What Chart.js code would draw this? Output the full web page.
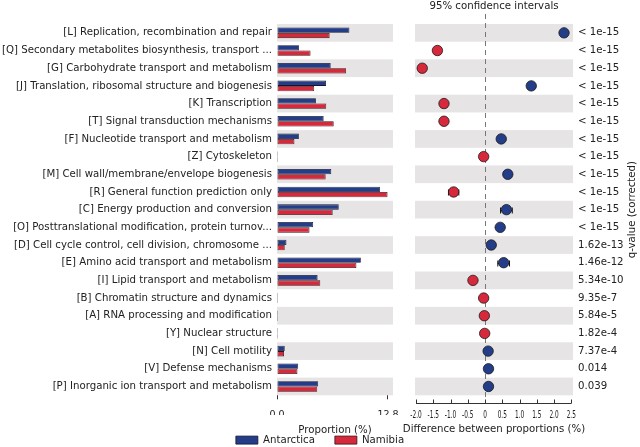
<!DOCTYPE html>
<html>
<head>
<meta charset="utf-8">
<script src="https://cdn.jsdelivr.net/npm/chart.js@4"></script>
<style>
  body { margin: 0; background: #fff; }
  #wrap { position: relative; width: 640px; height: 447px; }
  canvas { position: absolute; top: 0; }
  #barChart { left: 0; }
  #diffChart { left: 394px; }
</style>
</head>
<body>
<div id="wrap">
  <canvas id="barChart" width="640" height="447"></canvas>
  <canvas id="diffChart" width="246" height="447"></canvas>
</div>
<script>
// COG categories, top to bottom
const categories = [
  '[L] Replication, recombination and repair',
  '[Q] Secondary metabolites biosynthesis, transport ...',
  '[G] Carbohydrate transport and metabolism',
  '[J] Translation, ribosomal structure and biogenesis',
  '[K] Transcription',
  '[T] Signal transduction mechanisms',
  '[F] Nucleotide transport and metabolism',
  '[Z] Cytoskeleton',
  '[M] Cell wall/membrane/envelope biogenesis',
  '[R] General function prediction only',
  '[C] Energy production and conversion',
  '[O] Posttranslational modification, protein turnov...',
  '[D] Cell cycle control, cell division, chromosome ...',
  '[E] Amino acid transport and metabolism',
  '[I] Lipid transport and metabolism',
  '[B] Chromatin structure and dynamics',
  '[A] RNA processing and modification',
  '[Y] Nuclear structure',
  '[N] Cell motility',
  '[V] Defense mechanisms',
  '[P] Inorganic ion transport and metabolism'
];

// proportion (%)
const antarctica = [8.35, 2.55, 6.19, 5.65, 4.49, 5.38, 2.52, 0.04, 6.26, 11.87, 7.12,
  4.17, 1.09, 9.67, 4.68, 0.02, 0.03, 0.01, 0.89, 2.44, 4.75];
const namibia = [6.07, 3.87, 7.97, 4.29, 5.68, 6.54, 2.01, 0.08, 5.61, 12.75, 6.42,
  3.75, 0.89, 9.16, 4.99, 0.06, 0.05, 0.02, 0.81, 2.36, 4.64];

// difference between proportions (%) with 95% CI
const diffs = [2.29, -1.38, -1.82, 1.34, -1.19, -1.19, 0.47, -0.04, 0.66, -0.91, 0.62,
  0.44, 0.18, 0.54, -0.35, -0.04, -0.02, -0.01, 0.09, 0.10, 0.10];
const ciLow = [2.19, -1.47, -1.92, 1.25, -1.28, -1.29, 0.40, -0.07, 0.56, -1.06, 0.45,
  0.37, 0.12, 0.37, -0.43, -0.06, -0.04, -0.03, 0.05, 0.05, 0.03];
const ciHigh = [2.39, -1.29, -1.72, 1.43, -1.10, -1.09, 0.54, -0.01, 0.76, -0.76, 0.79,
  0.51, 0.24, 0.71, -0.27, -0.02, 0.00, 0.01, 0.13, 0.15, 0.17];

const qValues = ['< 1e-15', '< 1e-15', '< 1e-15', '< 1e-15', '< 1e-15', '< 1e-15',
  '< 1e-15', '< 1e-15', '< 1e-15', '< 1e-15', '< 1e-15', '< 1e-15',
  '1.62e-13', '1.46e-12', '5.34e-10', '9.35e-7', '5.84e-5', '1.82e-4', '7.37e-4', '0.014', '0.039'];

const propTicks = [0, 12.8];
const diffTicks = [-2.0, -1.5, -1.0, -0.5, 0, 0.5, 1.0, 1.5, 2.0, 2.5];

const PROP_MAX = 13.38;
const DIFF_MIN = -2.03;
const DIFF_MAX = 2.55;

const BLUE = '#233d88';
const RED = '#d8283c';
const BAND = '#e6e4e4';
const FONT = 'DejaVu Sans';
const FS = 10.2;
const titleFont = { family: FONT, size: FS };

Chart.defaults.color = '#222';
Chart.defaults.font.family = FONT;
Chart.defaults.font.size = FS;

// grey band behind every other row (+ dashed zero line / CI whiskers on the right panel)
const rowBands = {
  id: 'rowBands',
  beforeDatasetsDraw(chart, args, opts) {
    const { ctx, chartArea: a, scales } = chart;
    const y = scales.y;
    const step = y.getPixelForValue(1) - y.getPixelForValue(0);
    ctx.save();
    ctx.fillStyle = BAND;
    categories.forEach((c, i) => {
      if (i % 2 === 0) {
        const py = y.getPixelForValue(i);
        ctx.fillRect(a.left, py - step / 2, a.right - a.left, step);
      }
    });
    if (opts.zeroLine) {
      const px = Math.round(scales.x.getPixelForValue(0)) + 0.5;
      ctx.strokeStyle = '#777';
      ctx.lineWidth = 1;
      ctx.setLineDash([5, 4]);
      ctx.beginPath();
      ctx.moveTo(px, a.top - 10);
      ctx.lineTo(px, a.bottom + 8);
      ctx.stroke();
      ctx.setLineDash([]);
    }
    if (opts.whiskers) {
      ctx.strokeStyle = '#111';
      ctx.lineWidth = 1;
      ctx.beginPath();
      ciLow.forEach((lo, i) => {
        const py = Math.round(y.getPixelForValue(i)) + 0.5;
        const x0 = scales.x.getPixelForValue(lo);
        const x1 = scales.x.getPixelForValue(ciHigh[i]);
        ctx.moveTo(x0, py); ctx.lineTo(x1, py);
        ctx.moveTo(x0, py - 3); ctx.lineTo(x0, py + 3);
        ctx.moveTo(x1, py - 3); ctx.lineTo(x1, py + 3);
      });
      ctx.stroke();
    }
    ctx.restore();
  }
};

// bottom axis of the right panel (line, upward ticks, squeezed labels, title) + rotated q-value title
const diffAxis = {
  id: 'diffAxis',
  afterDraw(chart) {
    const { ctx, chartArea: a, scales: { x } } = chart;
    const yLine = Math.round(a.bottom + 8) + 0.5;
    ctx.save();
    ctx.strokeStyle = '#333';
    ctx.lineWidth = 1;
    ctx.beginPath();
    ctx.moveTo(x.getPixelForValue(diffTicks[0]), yLine);
    ctx.lineTo(x.getPixelForValue(diffTicks[diffTicks.length - 1]), yLine);
    diffTicks.forEach(v => {
      const px = Math.round(x.getPixelForValue(v)) + 0.5;
      ctx.moveTo(px, yLine);
      ctx.lineTo(px, yLine - 4);
    });
    ctx.stroke();

    ctx.fillStyle = '#222';
    ctx.font = FS + 'px "' + FONT + '"';
    ctx.textAlign = 'center';
    ctx.textBaseline = 'middle';
    diffTicks.forEach(v => {
      ctx.save();
      ctx.translate(x.getPixelForValue(v), a.bottom + 20);
      ctx.scale(0.57, 1);
      ctx.fillText(v === 0 ? '0' : v.toFixed(1), 0, 0);
      ctx.restore();
    });
    ctx.fillText('Difference between proportions (%)', (a.left + a.right) / 2, a.bottom + 34);

    ctx.translate(chart.width - 8, (a.top + a.bottom) / 2);
    ctx.rotate(-Math.PI / 2);
    ctx.fillText('q-value (corrected)', 0, 0);
    ctx.restore();
  }
};

new Chart(document.getElementById('barChart'), {
  type: 'bar',
  data: {
    labels: categories,
    datasets: [{
      label: 'Antarctica',
      data: antarctica,
      backgroundColor: BLUE,
      borderColor: '#15152a',
      borderWidth: 0.8,
      borderSkipped: false,
      minBarLength: 1
    }, {
      label: 'Namibia',
      data: namibia,
      backgroundColor: RED,
      borderColor: '#2a1515',
      borderWidth: 0.8,
      borderSkipped: false,
      minBarLength: 1
    }]
  },
  options: {
    indexAxis: 'y',
    responsive: false,
    animation: false,
    devicePixelRatio: 1,
    categoryPercentage: 0.6,
    barPercentage: 1.0,
    layout: { padding: { top: 24, right: 0, left: 0, bottom: 0 } },
    scales: {
      y: {
        grid: { display: false, drawTicks: false },
        border: { display: false },
        ticks: { autoSkip: false, padding: 5 },
        afterFit: s => { s.width = 277; }
      },
      // empty axis that keeps the right-hand side free for the difference panel
      spacer: {
        type: 'category',
        labels: categories,
        position: 'right',
        grid: { display: false, drawTicks: false },
        border: { display: false },
        ticks: { display: false },
        afterFit: s => { s.width = 247; }
      },
      x: {
        min: 0,
        max: PROP_MAX,
        grid: { drawOnChartArea: false, drawTicks: true, tickLength: 4, color: '#333' },
        border: { display: false },
        ticks: { padding: 10, font: { size: 9.5 }, callback: v => v.toFixed(1) },
        afterBuildTicks: s => { s.ticks = propTicks.map(v => ({ value: v })); },
        title: { display: true, text: 'Proportion (%)', font: titleFont, padding: { top: 0, bottom: -21 } },
        afterFit: s => { s.height = 19.7; }
      }
    },
    plugins: {
      rowBands: {},
      tooltip: { enabled: false },
      legend: {
        position: 'bottom',
        maxHeight: 32,
        labels: { boxWidth: 22, boxHeight: 8, padding: 20, color: '#222' }
      }
    }
  },
  plugins: [rowBands]
});

new Chart(document.getElementById('diffChart'), {
  type: 'scatter',
  data: {
    datasets: [{
      label: 'difference',
      data: diffs.map((d, i) => ({ x: d, y: categories[i] })),
      pointRadius: 5.2,
      pointBackgroundColor: diffs.map(d => d > 0 ? BLUE : RED),
      pointBorderColor: '#1a1a1a',
      pointBorderWidth: 0.8,
      showLine: false
    }]
  },
  options: {
    responsive: false,
    animation: false,
    devicePixelRatio: 1,
    layout: { padding: { top: 0, left: 21, right: 0, bottom: 0 } },
    scales: {
      x: {
        type: 'linear',
        position: 'bottom',
        min: DIFF_MIN,
        max: DIFF_MAX,
        grid: { display: false, drawTicks: false },
        border: { display: false },
        afterBuildTicks: s => { s.ticks = diffTicks.map(v => ({ value: v })); },
        ticks: { display: false },
        afterFit: s => { s.height = 51.7; }
      },
      xTop: {
        type: 'linear',
        position: 'top',
        min: DIFF_MIN,
        max: DIFF_MAX,
        grid: { display: false, drawTicks: false },
        border: { display: false },
        ticks: { display: false },
        title: { display: true, text: '95% confidence intervals', font: titleFont, padding: { top: 0, bottom: 0 } },
        afterFit: s => { s.height = 24; }
      },
      y: {
        type: 'category',
        labels: categories,
        offset: true,
        display: false
      },
      y2: {
        type: 'category',
        labels: qValues,
        offset: true,
        position: 'right',
        grid: { display: false, drawTicks: false },
        border: { display: false },
        ticks: { autoSkip: false, padding: 5 },
        afterFit: s => { s.width = 67; }
      }
    },
    plugins: {
      rowBands: { zeroLine: true, whiskers: true },
      legend: { display: false },
      tooltip: { enabled: false }
    }
  },
  plugins: [rowBands, diffAxis]
});
</script>
</body>
</html>
